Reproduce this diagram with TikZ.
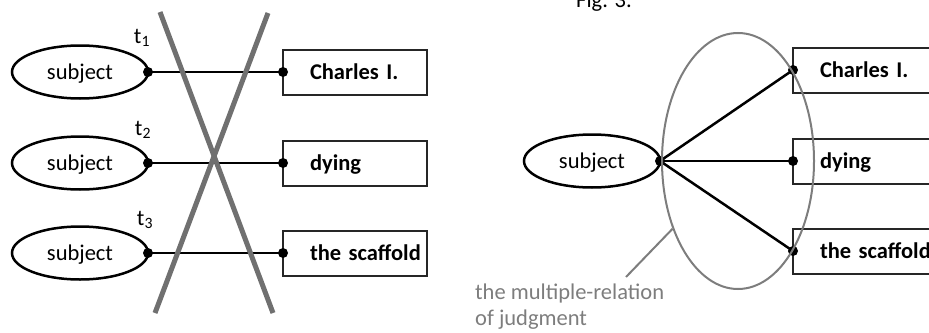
\documentclass[tikz,border=0pt]{standalone}
\usepackage{fontspec}
\setmainfont{Carlito}
\usepackage{tikz}
\usetikzlibrary{positioning, shapes.geometric}
\definecolor{crossgray}{RGB}{112,112,112}
\definecolor{relgray}{RGB}{125,125,125}
\tikzstyle{link} = [line width=2.5pt]
\tikzstyle{dot} = [fill=black]
\tikzstyle{cross} = [crossgray, line width=5pt]

\begin{document}
\fontsize{22.5}{26}\selectfont
\begin{tikzpicture}[x=1pt, y=-1pt,
subjectnode/.style={ellipse, draw=black, line width=2.5pt, minimum width=136pt, minimum height=53pt, inner sep=0pt, outer sep=0pt, text height=16pt, text depth=1pt},
termnode/.style={rectangle, draw=black!85, line width=2pt, minimum height=45pt, text width=144pt, inner xsep=0pt, outer sep=0pt, align=left, font=\bfseries, text height=16pt, text depth=1pt, execute at begin node={\hspace*{27pt}}},
relnode/.style={ellipse, draw=relgray, line width=2pt, minimum width=152pt, minimum height=256pt},
notelabel/.style={text=relgray, align=left, inner sep=0pt, anchor=north west}
]
\clip (0,0) rectangle (929,332);
% left: three judgments at t1, t2, t3
\node[subjectnode] (s1) at (80,72) {subject};
\node[subjectnode] (s2) at (80,163) {subject};
\node[subjectnode] (s3) at (80,253) {subject};
\node[termnode] (c1) [right=135pt of s1] {Charles I.};
\node[termnode] (c2) [right=135pt of s2] {dying};
\node[termnode] (c3) [right=135pt of s3] {the scaffold};
\node (t1) at (142,38) {t\textsubscript{1}};
\node (t2) at (143,130) {t\textsubscript{2}};
\node (t3) at (145,220) {t\textsubscript{3}};

\draw[link] (s1.east) -- (c1.west);
\draw[link] (s2.east) -- (c2.west);
\draw[link] (s3.east) -- (c3.west);
\fill[dot] (s1.east) circle (5pt) (c1.west) circle (5pt);
\fill[dot] (s2.east) circle (5pt) (c2.west) circle (5pt);
\fill[dot] (s3.east) circle (5pt) (c3.west) circle (5pt);

\draw[cross] (160,12) -- (273,313);
\draw[cross] (268,13) -- (155,313);

% right: one multiple relation
\node (fig) at (604,8) [anchor=base] {Fig. 3.};
\node[subjectnode] (sR) at (592,161) {subject};
\node[termnode] (r1) at (793,70) [anchor=west] {Charles I.};
\node[termnode] (r2) at (793,161) [anchor=west] {dying};
\node[termnode] (r3) at (793,251) [anchor=west] {the scaffold};

\draw[link] (sR.east) -- (r1.west);
\draw[link] (sR.east) -- (r2.west);
\draw[link] (sR.east) -- (r3.west);
\fill[dot] (sR.east) circle (5pt);
\fill[dot] (r1.west) circle (5pt) (r2.west) circle (5pt) (r3.west) circle (5pt);

\node[relnode] (rel) at (738,161) {};
\node[notelabel] (note) at (475,284) {the multiple-relation\\of judgment};
\coordinate (tip) at (626,277);
\draw[relgray, line width=2pt] (tip) -- (rel.226);
\end{tikzpicture}
\end{document}
